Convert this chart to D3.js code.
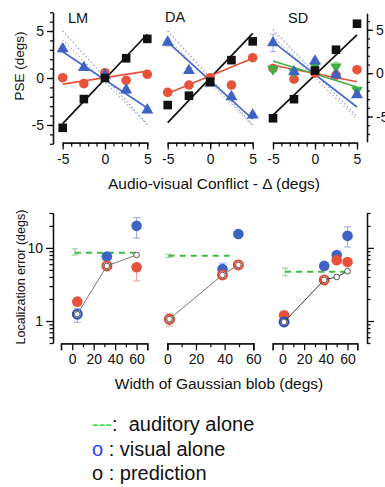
<!DOCTYPE html>
<html><head><meta charset="utf-8">
<script src="https://cdn.jsdelivr.net/npm/d3@7"></script>
<style>
body{margin:0;background:#fff}
svg{display:block}
text{font-family:"Liberation Sans",Arial,Helvetica,sans-serif;fill:#111;white-space:pre}
</style>
</head><body>
<svg id="c" width="385" height="487"></svg>
<script>
// ---------------- DATA ----------------
const conflicts = [-5, -2.5, 0, 2.5, 5];
const panelNames = ["LM", "DA", "SD"];
const psePanelTicks = [-5, 0, 5];

// PSE (degs) per conflict
const lmSquares   = [-5.3, -2.24, 0.0, 2.1, 4.16];
const lmCircles   = [0.03, -0.6, 0.56, -0.25, 0.39];
const lmTriangles = [3.1, 1.1, 0.3, -1.28, -3.4];
const lmTriErr    = [0.35, 0.25, 0.25, 0.3, 0.3];

const daSquares   = [-2.88, -1.88, -0.4, 1.9, 3.9];
const daCircles   = [-1.53, -0.75, 0.03, -0.75, 2.16];
const daTriangles = [3.8, 0.78, -0.57, -1.99, -3.95];
const daTriErr    = [0.4, 0.3, 0.3, 0.35, 0.3];

const sdSquares   = [-5.2, -3.0, 0.3, 2.7, 5.7];
const sdCircles   = [0.54, -0.7, 0.0, -0.23, 0.4];
const sdTriangles = [3.5, 0.15, 1.39, -0.23, -2.5];
const sdTriErr    = [1.0, 0.3, 0.3, 0.3, 0.3];
const sdInverted  = [0.46, 0.15, 0.85, 0.73, -1.96];
const sdInvErr    = [0.3, 0.3, 0.3, 0.5, 0.3];

// fitted lines: [squares, circles, triangles, inverted]
const lmFitSlopes = [0.95, 0.14, -0.6];
const lmFitIntercepts = [-0.1, 0.04, -0.2];
const daFitSlopes = [0.95, 0.374, -0.82];
const daFitIntercepts = [0.0, 0.23, -0.28];
const sdFitSlopes = [0.925, -0.19, -0.75, -0.3];
const sdFitIntercepts = [-0.22, -0.04, -0.15, -0.1];

// predicted (dotted) lines
const lmPredSlopes = [-0.99, -0.9];
const lmPredIntercepts = [0.05, -0.45];
const daPredSlopes = [-1.0, -0.92];
const daPredIntercepts = [0.0, -0.45];
const sdPredSlopes = [-1.0, -0.95];
const sdPredIntercepts = [0.0, -0.55];

// Localization error (degs) vs width of Gaussian blob (degs)
const lmWidths = [4.7, 32.3, 60];
const lmVisual = [1.24, 7.6, 20];
const lmVisualErr = [[0.96, 1.49], null, [13.6, 26]];
const lmVisualHollow = [true, false, false];
const lmBimodal = [1.84, 5.67, 5.43];
const lmBimodalErr = [null, null, [3.53, 5.43]];
const lmBimodalHollow = [false, true, false];
const lmPrediction = [1.24, 5.67, 8.0];
const lmAuditory = 8.6;
const lmAuditoryErr = [8.0, 9.7];
const lmAuditorySpan = [2.5, 60];

const daWidths = [1.5, 38.5, 49.6];
const daVisual = [1.06, 5.15, 15.5];
const daVisualErr = [null, [5.15, 6.2], null];
const daVisualHollow = [false, false, false];
const daBimodal = [1.06, 4.27, 5.85];
const daBimodalErr = [[0.85, 1.25], null, null];
const daBimodalHollow = [true, true, true];
const daPrediction = [1.06, 4.27, 5.85];
const daAuditory = 7.8;
const daAuditoryErr = [7.4, 8.2];
const daAuditorySpan = [1, 46];

const sdWidths = [1.5, 38.5, 50, 60];
const sdVisual = [0.97, 5.67, 8.0, 14.6];
const sdVisualErr = [null, null, null, [10.3, 19.4]];
const sdVisualHollow = [true, false, false, false];
const sdBimodal = [1.2, 3.65, 6.8, 6.4];
const sdBimodalErr = [null, null, null, null];
const sdBimodalHollow = [false, true, false, false];
const sdPrediction = [0.97, 3.65, 4.0, 4.8];
const sdAuditory = 4.7;
const sdAuditoryErr = [4.15, 5.3];
const sdAuditorySpan = [2.5, 60];

const widthTicks = [0, 20, 40, 60];
const widthMinor = [10, 30, 50];
const errTicks = [1, 10];
const errMinor = [0.5, 0.6, 0.7, 0.8, 0.9, 2, 3, 4, 5, 6, 7, 8, 9, 20, 30];

const legendMarks = ["---", "o", "o"];
const legendTexts = [":\u00a0 auditory alone", " : visual alone", " : prediction"];
const legendColors = ["#33dd33", "#1a40ff", "#111"];

// ---------------- STYLE ----------------
const BLUE = "#3f63c4", RED = "#e8513a", BLACK = "#111";
const BLUE_L = "#9db0e2", RED_L = "#f2a596", GREEN_L = "#8fd28f";
const AX = 1.3;
const FONT = '"Liberation Sans",Arial,sans-serif';

const svg = d3.select("#c");

// ---------------- TOP PANELS ----------------
const yTop = d3.scaleLinear().domain([-7, 7]).range([143.8, 12.2]);
const ySD = d3.scaleLinear().domain([-7.9, 6.9]).range([141.7, 13.3]);
const topAxisY = 142.6;

const topPanels = [
  {name: panelNames[0], xr: [62.7, 147.3], y: yTop, title: [68, 22.5],
   sq: lmSquares, ci: lmCircles, tr: lmTriangles, trErr: lmTriErr,
   fitS: lmFitSlopes, fitI: lmFitIntercepts, predS: lmPredSlopes, predI: lmPredIntercepts},
  {name: panelNames[1], xr: [167.7, 252.7], y: yTop, title: [165, 22],
   sq: daSquares, ci: daCircles, tr: daTriangles, trErr: daTriErr,
   fitS: daFitSlopes, fitI: daFitIntercepts, predS: daPredSlopes, predI: daPredIntercepts},
  {name: panelNames[2], xr: [273, 357], y: ySD, title: [288, 22.5],
   sq: sdSquares, ci: sdCircles, tr: sdTriangles, trErr: sdTriErr,
   inv: sdInverted, invErr: sdInvErr,
   fitS: sdFitSlopes, fitI: sdFitIntercepts, predS: sdPredSlopes, predI: sdPredIntercepts}
];

const fitColors = [BLACK, RED, "#4a6ad0", "#45b045"];
const predColors = ["#7585d8", "#a0a6bc"];

topPanels.forEach((p) => {
  const x = d3.scaleLinear().domain(d3.extent(conflicts)).range(p.xr);
  const y = p.y;
  const g = svg.append("g");

  g.append("text").attr("x", p.title[0]).attr("y", p.title[1])
    .attr("font-size", 14.5).text(p.name);

  const xa = g.append("g").attr("transform", `translate(0,${topAxisY})`);
  xa.call(d3.axisBottom(x).tickValues(d3.range(-5, 6)).tickSize(4).tickSizeOuter(0).tickFormat(""));
  xa.append("g").call(d3.axisBottom(x).tickValues(psePanelTicks).tickSize(7).tickSizeOuter(0)
      .tickPadding(4).tickFormat(d => String(d)));
  xa.selectAll("path,line").attr("stroke", BLACK).attr("stroke-width", AX);
  xa.selectAll("text").attr("font-size", 14).attr("font-family", FONT).attr("fill", BLACK);

  // dotted prediction lines
  p.predS.forEach((s, k) => {
    const ends = d3.extent(conflicts).map(c => [c, s * c + p.predI[k]]);
    g.append("path").datum(ends)
      .attr("d", d3.line().x(d => x(d[0])).y(d => y(d[1])))
      .attr("fill", "none").attr("stroke", predColors[k]).attr("stroke-width", 1.2)
      .attr("stroke-dasharray", "1.2,2.6");
  });

  const errBars = (vals, errs, col) => {
    vals.forEach((v, i) => {
      const cx = x(conflicts[i]);
      const e = errs[i];
      g.append("line").attr("x1", cx).attr("x2", cx).attr("y1", y(v - e)).attr("y2", y(v + e))
        .attr("stroke", col).attr("stroke-width", 1);
      [v - e, v + e].forEach(b => g.append("line").attr("x1", cx - 3).attr("x2", cx + 3)
        .attr("y1", y(b)).attr("y2", y(b)).attr("stroke", col).attr("stroke-width", 1));
    });
  };
  errBars(p.tr, p.trErr, BLUE_L);
  if (p.inv) errBars(p.inv, p.invErr, GREEN_L);

  p.fitS.forEach((s, k) => {
    const ends = d3.extent(conflicts).map(c => [c, s * c + p.fitI[k]]);
    g.append("path").datum(ends)
      .attr("d", d3.line().x(d => x(d[0])).y(d => y(d[1])))
      .attr("fill", "none").attr("stroke", fitColors[k]).attr("stroke-width", 1.7);
  });

  const sym = (vals, type, size, col, rot) => {
    g.selectAll(null).data(vals).enter().append("path")
      .attr("d", d3.symbol(type, size))
      .attr("transform", (d, i) => `translate(${x(conflicts[i])},${y(d)}) rotate(${rot || 0})`)
      .attr("fill", col);
  };
  sym(p.ci, d3.symbolCircle, 72, RED);
  if (p.inv) sym(p.inv, d3.symbolTriangle, 58, "#3fb043", 180);
  sym(p.tr, d3.symbolTriangle, 62, BLUE);
  sym(p.sq, d3.symbolSquare, 74, BLACK);
});

{
  const g = svg.append("g").attr("transform", "translate(53,0)");
  g.call(d3.axisLeft(yTop).tickValues(d3.range(-7, 8)).tickSize(3).tickSizeOuter(0).tickFormat(""));
  g.append("g").call(d3.axisLeft(yTop).tickValues(psePanelTicks).tickSize(6).tickSizeOuter(0)
    .tickPadding(3).tickFormat(d => String(d)));
  g.selectAll("path,line").attr("stroke", BLACK).attr("stroke-width", AX);
  g.selectAll("text").attr("font-size", 14).attr("font-family", FONT).attr("fill", BLACK);
}
{
  const g = svg.append("g").attr("transform", "translate(367,0)");
  g.call(d3.axisRight(ySD).tickValues(d3.range(-7, 7)).tickSize(3).tickSizeOuter(0).tickFormat(""));
  g.append("g").call(d3.axisRight(ySD).tickValues(psePanelTicks).tickSize(6).tickSizeOuter(0)
    .tickPadding(3).tickFormat(d => String(d)));
  g.selectAll("path,line").attr("stroke", BLACK).attr("stroke-width", AX);
  g.selectAll("text").attr("font-size", 14).attr("font-family", FONT).attr("fill", BLACK);
}

svg.append("text").attr("transform", "translate(24,66) rotate(-90)")
  .attr("text-anchor", "middle").attr("font-size", 13.5).text("PSE (degs)");
svg.append("text").attr("x", 214).attr("y", 189)
  .attr("text-anchor", "middle").attr("font-size", 15.5).text("Audio-visual Conflict - \u0394 (degs)");

// ---------------- BOTTOM PANELS ----------------
const yLog = d3.scaleLog().domain([0.5, 30]).range([343, 213]);
const botAxisY = 343.3;

const botPanels = [
  {dom: [-10.5, 70], rng: [61, 147.3], w: lmWidths, v: lmVisual, vErr: lmVisualErr, vH: lmVisualHollow,
   b: lmBimodal, bErr: lmBimodalErr, bH: lmBimodalHollow, pr: lmPrediction, prCol: "#777",
   a: lmAuditory, aErr: lmAuditoryErr, aSpan: lmAuditorySpan},
  {dom: [0, 60], rng: [167.3, 253.3], w: daWidths, v: daVisual, vErr: daVisualErr, vH: daVisualHollow,
   b: daBimodal, bErr: daBimodalErr, bH: daBimodalHollow, pr: daPrediction, prCol: "#777",
   a: daAuditory, aErr: daAuditoryErr, aSpan: daAuditorySpan},
  {dom: [-9, 69], rng: [272.7, 357.3], w: sdWidths, v: sdVisual, vErr: sdVisualErr, vH: sdVisualHollow,
   b: sdBimodal, bErr: sdBimodalErr, bH: sdBimodalHollow, pr: sdPrediction, prCol: "#333",
   a: sdAuditory, aErr: sdAuditoryErr, aSpan: sdAuditorySpan}
];

botPanels.forEach((p) => {
  const x = d3.scaleLinear().domain(p.dom).range(p.rng);
  const y = yLog;
  const g = svg.append("g");

  const xa = g.append("g").attr("transform", `translate(0,${botAxisY})`);
  xa.call(d3.axisBottom(x).tickValues(widthMinor).tickSize(4).tickSizeOuter(7).tickFormat(""));
  xa.append("g").call(d3.axisBottom(x).tickValues(widthTicks).tickSize(7).tickSizeOuter(7)
    .tickPadding(4).tickFormat(d => String(d)));
  xa.selectAll("path,line").attr("stroke", BLACK).attr("stroke-width", AX);
  xa.selectAll("text").attr("font-size", 14).attr("font-family", FONT).attr("fill", BLACK);

  const ax0 = x(p.aSpan[0]);
  g.append("line").attr("x1", ax0).attr("x2", ax0).attr("y1", y(p.aErr[0])).attr("y2", y(p.aErr[1]))
    .attr("stroke", GREEN_L).attr("stroke-width", 1.1);
  p.aErr.forEach(b => g.append("line").attr("x1", ax0 - 3).attr("x2", ax0 + 3)
    .attr("y1", y(b)).attr("y2", y(b)).attr("stroke", GREEN_L).attr("stroke-width", 1.1));
  g.append("line").attr("x1", x(p.aSpan[0])).attr("x2", x(p.aSpan[1]))
    .attr("y1", y(p.a)).attr("y2", y(p.a))
    .attr("stroke", "#3fba3f").attr("stroke-width", 2).attr("stroke-dasharray", "6,5");

  const eb = (errs, col) => errs.forEach((e, i) => {
    if (!e) return;
    const cx = x(p.w[i]);
    g.append("line").attr("x1", cx).attr("x2", cx).attr("y1", y(e[0])).attr("y2", y(e[1]))
      .attr("stroke", col).attr("stroke-width", 1.1);
    e.forEach(b => g.append("line").attr("x1", cx - 3.5).attr("x2", cx + 3.5)
      .attr("y1", y(b)).attr("y2", y(b)).attr("stroke", col).attr("stroke-width", 1.1));
  });
  eb(p.vErr, BLUE_L);
  eb(p.bErr, RED_L);

  const filled = (vals, hollow, col) => g.selectAll(null)
    .data(vals.map((v, i) => ({v, i})).filter(d => !hollow[d.i])).enter()
    .append("circle").attr("cx", d => x(p.w[d.i])).attr("cy", d => y(d.v)).attr("r", 5.3).attr("fill", col);
  const open = (vals, hollow, col) => g.selectAll(null)
    .data(vals.map((v, i) => ({v, i})).filter(d => hollow[d.i])).enter()
    .append("circle").attr("cx", d => x(p.w[d.i])).attr("cy", d => y(d.v)).attr("r", 4.4)
    .attr("fill", "#fff").attr("stroke", col).attr("stroke-width", 2.2);
  filled(p.v, p.vH, BLUE);
  filled(p.b, p.bH, RED);
  open(p.v, p.vH, "#2b4fb5");
  open(p.b, p.bH, "#e04a2e");

  g.append("path").datum(p.pr)
    .attr("d", d3.line().x((d, i) => x(p.w[i])).y(d => y(d)))
    .attr("fill", "none").attr("stroke", p.prCol).attr("stroke-width", 1);
  g.selectAll(null).data(p.pr).enter().append("circle")
    .attr("cx", (d, i) => x(p.w[i])).attr("cy", d => y(d)).attr("r", 2.8)
    .attr("fill", "#fff").attr("stroke", "#555").attr("stroke-width", 1);
});

{
  const g = svg.append("g").attr("transform", "translate(53,0)");
  g.call(d3.axisLeft(yLog).tickValues(errMinor).tickSize(3.5).tickSizeOuter(0).tickFormat(""));
  g.append("g").call(d3.axisLeft(yLog).tickValues(errTicks).tickSize(7).tickSizeOuter(0)
    .tickPadding(3).tickFormat(d => String(d)));
  g.selectAll("path,line").attr("stroke", BLACK).attr("stroke-width", AX);
  g.selectAll("text").attr("font-size", 14).attr("font-family", FONT).attr("fill", BLACK);
}
{
  const g = svg.append("g").attr("transform", "translate(367,0)");
  g.call(d3.axisRight(yLog).tickValues(errMinor).tickSize(3.5).tickSizeOuter(0).tickFormat(""));
  g.append("g").call(d3.axisRight(yLog).tickValues(errTicks).tickSize(7).tickSizeOuter(0).tickFormat(""));
  g.selectAll("path,line").attr("stroke", BLACK).attr("stroke-width", AX);
}

svg.append("text").attr("transform", "translate(24.5,277) rotate(-90)")
  .attr("text-anchor", "middle").attr("font-size", 12.5).text("Localization error (degs)");
svg.append("text").attr("x", 219).attr("y", 389)
  .attr("text-anchor", "middle").attr("font-size", 15.5).text("Width of Gaussian blob (degs)");

// ---------------- LEGEND ----------------
legendMarks.forEach((m, i) => {
  const t = svg.append("text").attr("x", 92).attr("y", 431 + i * 24.5).attr("font-size", 20);
  t.append("tspan").style("fill", legendColors[i]).text(m);
  t.append("tspan").text(legendTexts[i]);
});
</script>
</body></html>
